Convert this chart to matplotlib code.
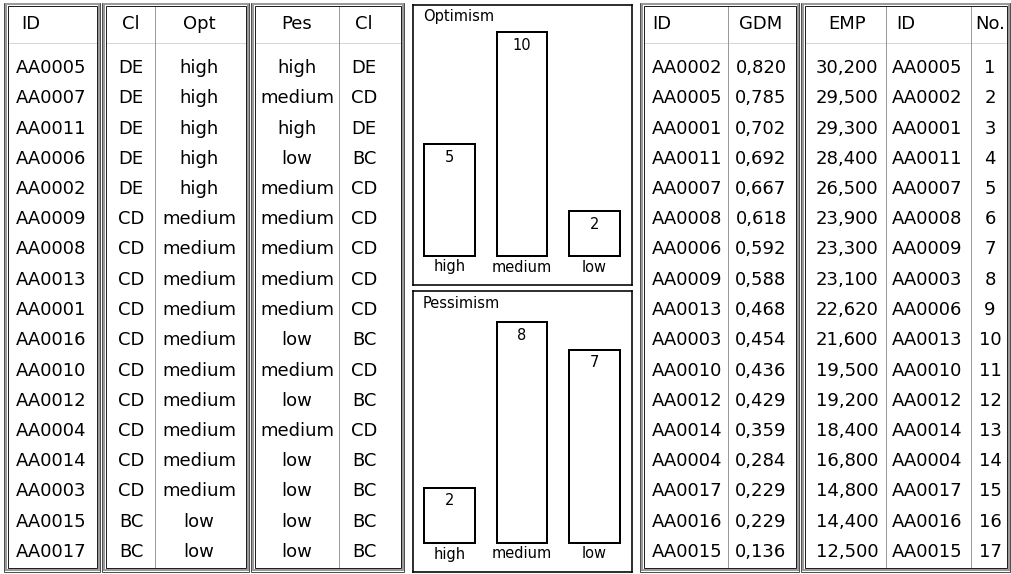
import matplotlib.pyplot as plt
from matplotlib.patches import Rectangle

# ---- data ----
ids = ['AA0005', 'AA0007', 'AA0011', 'AA0006', 'AA0002', 'AA0009', 'AA0008', 'AA0013', 'AA0001',
       'AA0016', 'AA0010', 'AA0012', 'AA0004', 'AA0014', 'AA0003', 'AA0015', 'AA0017']
cl_opt = ['DE', 'DE', 'DE', 'DE', 'DE', 'CD', 'CD', 'CD', 'CD', 'CD', 'CD', 'CD', 'CD', 'CD', 'CD', 'BC', 'BC']
opt = ['high', 'high', 'high', 'high', 'high', 'medium', 'medium', 'medium', 'medium', 'medium',
       'medium', 'medium', 'medium', 'medium', 'medium', 'low', 'low']
pes = ['high', 'medium', 'high', 'low', 'medium', 'medium', 'medium', 'medium', 'medium', 'low',
       'medium', 'low', 'medium', 'low', 'low', 'low', 'low']
cl_pes = ['DE', 'CD', 'DE', 'BC', 'CD', 'CD', 'CD', 'CD', 'CD', 'BC', 'CD', 'BC', 'CD', 'BC', 'BC', 'BC', 'BC']

gdm_ids = ['AA0002', 'AA0005', 'AA0001', 'AA0011', 'AA0007', 'AA0008', 'AA0006', 'AA0009', 'AA0013',
           'AA0003', 'AA0010', 'AA0012', 'AA0014', 'AA0004', 'AA0017', 'AA0016', 'AA0015']
gdm = ['0,820', '0,785', '0,702', '0,692', '0,667', '0,618', '0,592', '0,588', '0,468',
       '0,454', '0,436', '0,429', '0,359', '0,284', '0,229', '0,229', '0,136']
emp = ['30,200', '29,500', '29,300', '28,400', '26,500', '23,900', '23,300', '23,100', '22,620',
       '21,600', '19,500', '19,200', '18,400', '16,800', '14,800', '14,400', '12,500']
emp_ids = ['AA0005', 'AA0002', 'AA0001', 'AA0011', 'AA0007', 'AA0008', 'AA0009', 'AA0003', 'AA0006',
           'AA0013', 'AA0010', 'AA0012', 'AA0014', 'AA0004', 'AA0017', 'AA0016', 'AA0015']
rank = [str(i) for i in range(1, 18)]

levels = ['high', 'medium', 'low']
opt_counts = [5, 10, 2]
pes_counts = [2, 8, 7]

plt.rcParams['font.family'] = ['DejaVu Sans']

fig = plt.figure(figsize=(10.12, 5.74), dpi=100)
ax = fig.add_axes([0, 0, 1, 1])
ax.set_xlim(0, 1012)
ax.set_ylim(574, 0)
ax.axis('off')

PX = 0.72  # one pixel in points
Y0, Y1 = 2, 572
HEAD_Y = 24
HEAD_LINE = 43
ROW0, ROWSTEP = 68, 30.25
FS = 13


def frame(x0, x1):
    # outer dark / grey band / inner dark, like a sunken group box
    for d, c, lw in [(0.5, '#505050', 1.0), (2.3, '#9a9a9a', 2.0), (4.3, '#202020', 1.0)]:
        ax.add_patch(Rectangle((x0 + d, Y0 + d), x1 - x0 - 2 * d, Y1 - Y0 - 2 * d,
                               fill=False, ec=c, lw=lw * PX))
    ax.plot([x0 + 5, x1 - 5], [HEAD_LINE, HEAD_LINE], color='#d6d6d6', lw=1 * PX)


def divider(x):
    ax.plot([x, x], [Y0 + 5, Y1 - 5], color='#9a9a9a', lw=1 * PX)


def column(x, header, values, ha='center', hx=None):
    if hx is None:
        hx, hha = x, ha
    else:
        hha = 'left'
    ax.text(hx, HEAD_Y, header, ha=hha, va='center', fontsize=FS)
    for i, v in enumerate(values):
        ax.text(x, ROW0 + i * ROWSTEP, v, ha=ha, va='center', fontsize=FS)


# table 1
frame(4, 101)
column(16, 'ID', ids, ha='left', hx=21)

# table 2
frame(102, 250)
divider(155)
column(131, 'Cl', cl_opt)
column(199, 'Opt', opt)

# table 3
frame(251, 405)
divider(339)
column(297, 'Pes', pes)
column(364, 'Cl', cl_pes)

# table 4
frame(640, 800)
divider(728)
column(652, 'ID', gdm_ids, ha='left', hx=652)
column(761, 'GDM', gdm)

# table 5
frame(801, 1011)
divider(886)
divider(971)
column(847, 'EMP', emp)
column(892, 'ID', emp_ids, ha='left', hx=896)
column(990, 'No.', rank)


def bar_panel(top, bottom, base_px, scale, title, counts):
    W, H = 1012, 574
    x0, x1 = 413, 632
    bax = fig.add_axes([x0 / W, (H - bottom) / H, (x1 - x0) / W, (bottom - top) / H])
    spacing = 72.5
    c0 = 449.5
    bax.set_xlim((x0 - c0) / spacing, (x1 - c0) / spacing)
    bax.set_ylim(-(bottom - base_px) / scale, (base_px - top) / scale)
    xs = range(len(levels))
    bax.bar(xs, counts, width=0.70, color='white', edgecolor='black', linewidth=2 * PX)
    for i, v in enumerate(counts):
        bax.annotate(str(v), (i, v), xytext=(0, -13), textcoords='offset pixels',
                     ha='center', va='center', fontsize=10.5)
        bax.annotate(levels[i], (i, 0), xytext=(0, -11), textcoords='offset pixels',
                     ha='center', va='center', fontsize=10.5)
    bax.text((423 - x0) / (x1 - x0), 1 - 12 / (bottom - top), title,
             transform=bax.transAxes, ha='left', va='center', fontsize=10.5)
    bax.set_xticks([])
    bax.set_yticks([])
    for s in bax.spines.values():
        s.set_linewidth(1.6 * PX)
        s.set_color('black')


bar_panel(5, 285, 256, 22.4, 'Optimism', opt_counts)
bar_panel(291, 572, 543, 27.6, 'Pessimism', pes_counts)

fig.savefig('out.png', dpi=100)
